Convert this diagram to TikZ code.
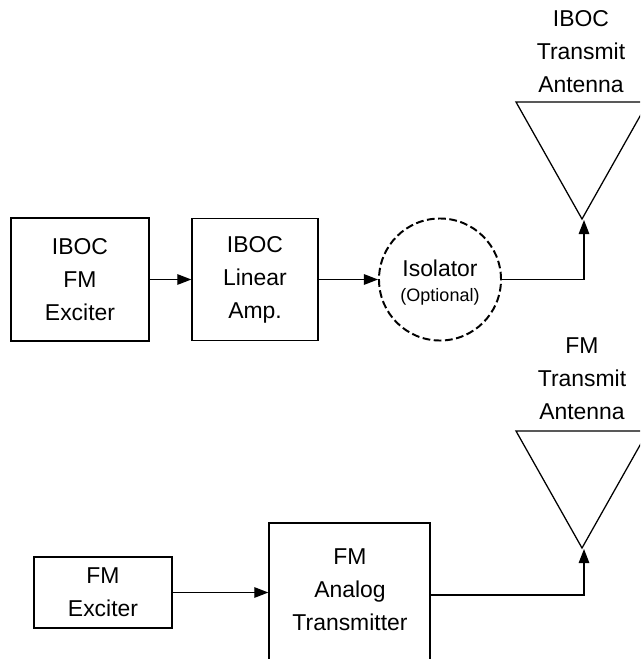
\documentclass[tikz,border=0pt]{standalone}
\usepackage{fontspec}
\setmainfont{Liberation Sans}
\usetikzlibrary{arrows.meta, shapes.geometric}
\tikzstyle{arrow} = [line width=0.9pt,-{Triangle[length=10pt,width=7.5pt]}]
\tikzstyle{block} = [draw,line width=0.9pt,inner sep=0pt,align=center,font=\fontsize{16.3}{23.4}\selectfont]
\tikzstyle{caption} = [inner sep=0pt,align=center,font=\fontsize{16.3}{23.4}\selectfont]
\begin{document}
\begin{tikzpicture}[x=0.025cm,y=-0.025cm]
    \useasboundingbox (0,0) rectangle (640,659);
    \clip (0,0) rectangle (640,659);
    % upper chain
    \node[block,minimum width=3.45cm,minimum height=3.075cm] (ibocexciter) at (80,279.5) {IBOC\\FM\\Exciter};
    \node[block,minimum width=3.15cm,minimum height=3.05cm] (linearamp) at (255,279.5) {IBOC\\Linear\\Amp.};
    \node[draw,circle,line width=1.4pt,dash pattern=on 5.5pt off 2.5pt,minimum size=3.05cm,inner sep=0pt] (isolator) at (440,279.5) {};
    \node[caption] (isolatortext) at (440,268) {Isolator};
    \node[inner sep=0pt,font=\fontsize{12.8}{15}\selectfont] (optionaltext) at (440,297) {(Optional)};
    \node[caption] (ibocanttext) at (581,51.5) {IBOC\\Transmit\\Antenna};
    \coordinate (ibocleft) at (516,102);
    \coordinate (ibocright) at (648,102);
    \coordinate (ibocapex) at (582,219);
    \coordinate (ibocfoot) at (584,220);
    \draw[line width=0.9pt] (ibocleft)--(ibocright)--(ibocapex)--cycle;
    \draw[arrow] (ibocexciter)--(linearamp);
    \draw[arrow] (linearamp)--(isolator);
    \draw[arrow] (isolator.east)-|(ibocfoot);
    % lower chain
    \node[block,minimum width=3.45cm,minimum height=1.775cm] (fmexciter) at (103,592.5) {FM\\Exciter};
    \node[draw,line width=0.9pt,minimum width=4.025cm,minimum height=4cm,inner sep=0pt] (analog) at (349.5,603) {};
    \node[caption] (analogtext) at (350,590) {FM\\Analog\\Transmitter};
    \node[caption] (fmanttext) at (582,379) {FM\\Transmit\\Antenna};
    \coordinate (fmleft) at (516,431);
    \coordinate (fmright) at (648,431);
    \coordinate (fmapex) at (582,548);
    \coordinate (fmfoot) at (584,549);
    \coordinate (analogout) at (430,595);
    \draw[line width=0.9pt] (fmleft)--(fmright)--(fmapex)--cycle;
    \draw[arrow] (fmexciter)--(fmexciter-|analog.west);
    \draw[arrow] (analogout)-|(fmfoot);
\end{tikzpicture}
\end{document}
